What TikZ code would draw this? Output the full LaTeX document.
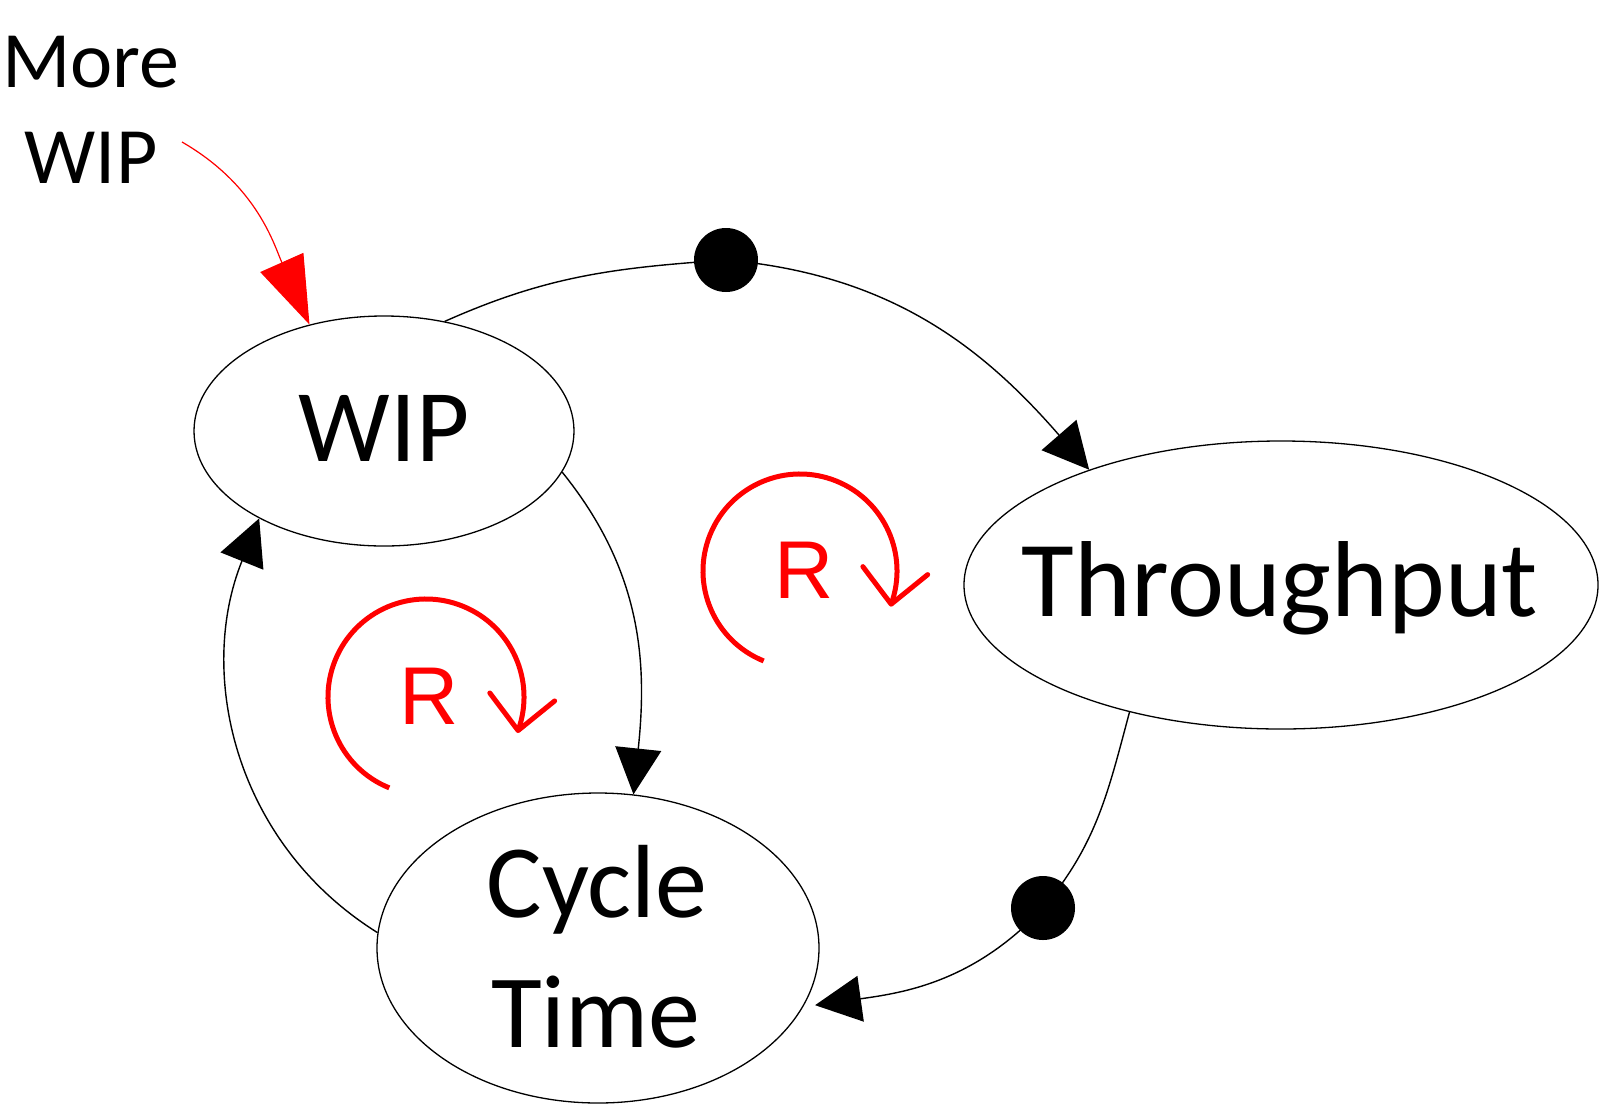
\documentclass[tikz,border=0pt]{standalone}
\usepackage{fontspec}
\setmainfont{Carlito}
\newfontfamily\arialf{Liberation Sans}
\usetikzlibrary{shapes.geometric,arrows.meta}
\begin{document}
\begin{tikzpicture}[x=1pt,y=-1pt,
  ell/.style={draw, ellipse, inner sep=0pt, line width=1.3pt},
  lbl/.style={anchor=base, inner sep=0pt},
  plainline/.style={line width=1.4pt},
  conn/.style={line width=1.4pt, -{Triangle[length=46pt,width=46pt]}},
  redconn/.style={red, line width=1.2pt, -{Triangle[length=68pt,width=47pt]}},
  dotnode/.style={circle, fill=black, minimum size=64pt, inner sep=0pt},
  rloop/.style={red, line width=5pt},
  rlabel/.style={anchor=base, inner sep=0pt, text=red, font=\arialf\fontsize{82}{94}\selectfont},
]
\fill[white] (0,0) rectangle (1600,1106);
\path[use as bounding box] (0,0) rectangle (1600,1106);

% ellipses
\node[ell, minimum width=380pt, minimum height=230pt] (wip) at (384,431) {};
\node[ell, minimum width=634pt, minimum height=288pt] (thr) at (1281,585) {};
\node[ell, minimum width=442pt, minimum height=310pt] (ct) at (598,948) {};

% labels
\node[lbl, font=\fontsize{103}{124}\selectfont] (wipT) at (384,461) {WIP};
\node[lbl, font=\fontsize{108}{130}\selectfont] (thrT) at (1280,616) {Throughput};
\node[lbl, font=\fontsize{104}{130}\selectfont] (ctT1) at (597,917) {Cycle};
\node[lbl, font=\fontsize{104}{130}\selectfont] (ctT2) at (596,1047) {Time};
\node[lbl, font=\fontsize{80}{96}\selectfont] (mw1) at (91,87) {More};
\node[lbl, font=\fontsize{80}{96}\selectfont] (mw2) at (91,183) {WIP};

% dots
\node[dotnode] (d1) at (726,260) {};
\node[dotnode] (d2) at (1043,908) {};

% connectors
\draw[plainline] (wip.61) to[out=24,in=184] (d1.center);
\draw[conn] (d1.center) to[out=-5,in=131] (thr.149);
\draw[plainline] (thr.220) to[out=255,in=50] (d2.center);
\draw[conn, shorten >=12pt] (d2.center) to[out=227,in=8] (ct.-16);
\draw[conn] (wip.-13) to[out=-51,in=84] (ct.77);
\draw[conn] (ct.176) to[out=148,in=248] (wip.215);

% external input
\coordinate (mwstart) at (182,142);
\draw[redconn] (mwstart) to[out=-30,in=114] (wip.125);

% loop markers
\coordinate (l1c) at (800,571);
\draw[rloop] (l1c) ++(248:97pt) arc[start angle=248, end angle=-20, radius=97pt] coordinate (l1tip);
\draw[rloop, line cap=round, line join=round] ([shift={(127:47pt)}]l1tip) -- (l1tip) -- ([shift={(39:47pt)}]l1tip);
\node[rlabel] (r1) at (804,598) {R};

\coordinate (l2c) at (426,697);
\draw[rloop] (l2c) ++(248:98pt) arc[start angle=248, end angle=-20, radius=98pt] coordinate (l2tip);
\draw[rloop, line cap=round, line join=round] ([shift={(127:47pt)}]l2tip) -- (l2tip) -- ([shift={(39:47pt)}]l2tip);
\node[rlabel] (r2) at (429,724) {R};
\end{tikzpicture}
\end{document}
